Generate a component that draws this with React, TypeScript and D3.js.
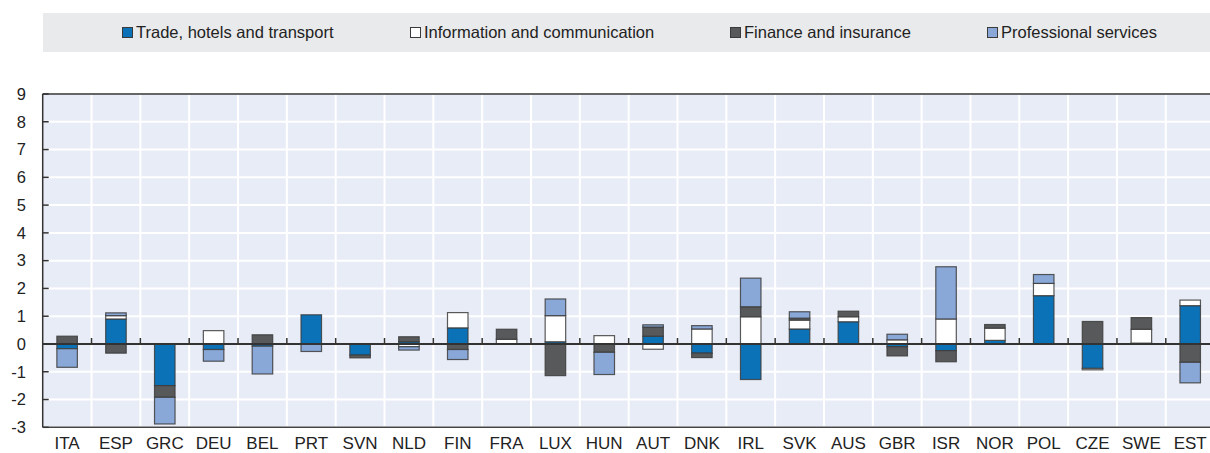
import React from 'react';
import * as d3 from 'd3';

const countries = ['ITA', 'ESP', 'GRC', 'DEU', 'BEL', 'PRT', 'SVN', 'NLD', 'FIN', 'FRA', 'LUX', 'HUN', 'AUT', 'DNK', 'IRL', 'SVK', 'AUS', 'GBR', 'ISR', 'NOR', 'POL', 'CZE', 'SWE', 'EST'];

const trade = [-0.17, 0.9, -1.5, -0.2, -0.08, 1.05, -0.4, 0.08, 0.58, 0, 0.08, 0, 0.28, -0.33, -1.28, 0.54, 0.8, -0.1, -0.24, 0.13, 1.74, -0.88, 0.03, 1.38];
const info = [0, 0.12, 0, 0.48, 0, 0, 0, -0.1, 0.55, 0.17, 0.94, 0.3, -0.19, 0.54, 0.98, 0.32, 0.18, 0.15, 0.9, 0.44, 0.44, -0.05, 0.5, 0.2];
const finance = [0.28, -0.33, -0.42, 0, 0.33, 0, -0.1, 0.18, -0.2, 0.36, -1.14, -0.3, 0.33, -0.16, 0.36, 0.07, 0.2, -0.33, -0.4, 0.13, 0, 0.81, 0.42, -0.66];
const professional = [-0.67, 0.1, -0.96, -0.42, -1.0, -0.27, 0, -0.12, -0.36, 0, 0.6, -0.8, 0.08, 0.12, 1.03, 0.23, 0, 0.2, 1.88, 0, 0.32, 0, 0, -0.74];

const seriesNames = ['Trade, hotels and transport', 'Information and communication', 'Finance and insurance', 'Professional services'];
const yTicks = [-3, -2, -1, 0, 1, 2, 3, 4, 5, 6, 7, 8, 9];

const colors = ['#0b72b8', '#ffffff', '#58595b', '#89a8d8'];
const font = '"Liberation Sans", Arial, sans-serif';

const width = 1210;
const height = 453;
const left = 42.7;
const top = 94;
const bottom = 427.3;
const plotRight = left + 48.83 * countries.length;

const App = () => {
	const rows = countries.map((c, i) => ({ c, s0: trade[i], s1: info[i], s2: finance[i], s3: professional[i] }));
	const stack = d3.stack().keys(['s0', 's1', 's2', 's3']).offset(d3.stackOffsetDiverging);
	const series = stack(rows);

	const x = d3.scaleBand().domain(countries).range([ left, plotRight ]).paddingInner(0.58).paddingOuter(0.29);
	const y = d3.scaleLinear().domain([ -3, 9 ]).range([ bottom, top ]);
	const step = x.step();
	const edges = d3.range(1, countries.length).map((i) => left + i * step);

	const legendX = [122, 410, 730, 987];

	return (
		<svg width={width} height={height} style={{ position: 'absolute', left: 0, top: 0 }} fontFamily={font}>
			{/* legend */}
			<rect x={43} y={13} width={width - 43} height={39} fill="#e9eaec" />
			{seriesNames.map((name, i) => (
				<g key={name} transform={`translate(${legendX[i]}, 27)`}>
					<rect x={0.5} y={0.5} width={10} height={10} fill={colors[i]} stroke="#3a3a3a" strokeWidth={1} />
					<text x={14} y={5.5} dy="0.35em" fontSize={16.5} fill="#222">{name}</text>
				</g>
			))}

			{/* plot area */}
			<rect x={left} y={top} width={plotRight - left} height={bottom - top} fill="#e8ecf6" />
			{yTicks.map((t) => (
				<line key={'h' + t} x1={left} x2={plotRight} y1={y(t)} y2={y(t)} stroke="#fff" strokeWidth={2} />
			))}
			{edges.map((e, i) => (
				<line key={'v' + i} x1={e} x2={e} y1={top} y2={bottom} stroke="#fff" strokeWidth={2} />
			))}

			{/* bars */}
			{series.map((s, k) => (
				<g key={k} fill={colors[k]} stroke="#3c3c3c" strokeOpacity={0.85} strokeWidth={1.2}>
					{s.map((d, i) => {
						if (d[1] === d[0]) return null;
						const y0 = y(Math.max(d[0], d[1]));
						const y1 = y(Math.min(d[0], d[1]));
						return <rect key={i} x={x(countries[i])} y={y0} width={x.bandwidth()} height={y1 - y0} />;
					})}
				</g>
			))}

			{/* zero line and ticks */}
			<line x1={left} x2={plotRight} y1={y(0)} y2={y(0)} stroke="#333" strokeWidth={2} />
			{edges.map((e, i) => (
				<line key={'t' + i} x1={e} x2={e} y1={y(0) - 6} y2={y(0)} stroke="#333" strokeWidth={1.5} />
			))}

			{/* frame */}
			<line x1={left} x2={plotRight} y1={top} y2={top} stroke="#333" strokeWidth={1.5} />
			<line x1={left} x2={plotRight} y1={bottom} y2={bottom} stroke="#444" strokeWidth={1.5} />
			<line x1={left} x2={left} y1={top} y2={bottom} stroke="#333" strokeWidth={1.5} />
			{yTicks.map((t) => (
				<g key={'yt' + t}>
					<line x1={left} x2={left + 6} y1={y(t)} y2={y(t)} stroke="#333" strokeWidth={1.5} />
					<text x={26} y={y(t)} dy="0.35em" textAnchor="end" fontSize={16.5} fill="#222">{t}</text>
				</g>
			))}

			{/* x labels */}
			{countries.map((c) => (
				<text key={c} x={x(c) + x.bandwidth() / 2} y={449} textAnchor="middle" fontSize={17} fill="#222">{c}</text>
			))}
		</svg>
	);
};

export default App;
